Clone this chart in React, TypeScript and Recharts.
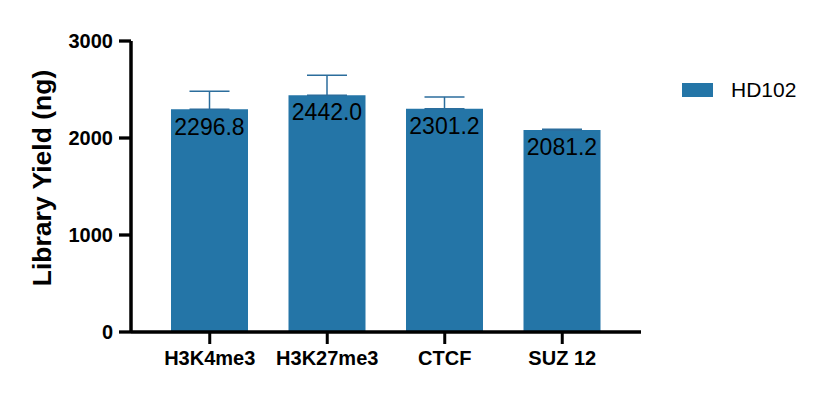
import { BarChart, Bar, XAxis, YAxis, ErrorBar, LabelList, Legend } from "recharts";

const categories = ["H3K4me3", "H3K27me3", "CTCF", "SUZ 12"];
const yieldValues = [2296.8, 2442.0, 2301.2, 2081.2];
const errorUp = [184, 204, 122, 9];
const yTicks = [0, 1000, 2000, 3000];

const FONT = "Arial, 'Liberation Sans', sans-serif";
const BAR_COLOR = "#2475a7";
const ERR_COLOR = "#2b6d9c";

const chartData = categories.map((name, i) => ({
  name,
  value: yieldValues[i],
  err: [0, errorUp[i]],
}));

function LegendBox() {
  return (
    <div style={{ display: "flex", alignItems: "center", fontFamily: FONT }}>
      <span
        style={{ display: "inline-block", width: 31, height: 14, background: BAR_COLOR }}
      />
      <span style={{ marginLeft: 18, fontSize: 21, color: "#000", lineHeight: "24px" }}>
        HD102
      </span>
    </div>
  );
}

export default function App() {
  return (
    <div style={{ position: "absolute", left: 0, top: 0, background: "#fff" }}>
      <BarChart
        width={824}
        height={402}
        data={chartData}
        margin={{ top: 41, right: 183, bottom: 0, left: 0 }}
      >
        <XAxis
          dataKey="name"
          height={70}
          padding={{ left: 20, right: 20 }}
          axisLine={{ stroke: "#000", strokeWidth: 3.5 }}
          tickLine={{ stroke: "#000", strokeWidth: 3 }}
          tickSize={12}
          tickMargin={7}
          tick={{ fill: "#000", fontSize: 20, fontWeight: "bold", fontFamily: FONT }}
        />
        <YAxis
          width={131}
          domain={[0, 3000]}
          ticks={yTicks}
          interval={0}
          axisLine={{ stroke: "#000", strokeWidth: 3.5 }}
          tickLine={{ stroke: "#000", strokeWidth: 3.3 }}
          tickSize={12}
          tickMargin={6}
          tick={{ fill: "#000", fontSize: 20, fontWeight: "bold", fontFamily: FONT }}
          label={{
            content: () => (
              <text
                x={51}
                y={178}
                transform="rotate(-90 51 178)"
                textAnchor="middle"
                fill="#000"
                fontSize={26.5}
                fontWeight="bold"
                fontFamily={FONT}
              >
                Library Yield (ng)
              </text>
            ),
          }}
        />
        <Legend
          layout="horizontal"
          align="center"
          verticalAlign="middle"
          content={() => <LegendBox />}
          wrapperStyle={{ left: 682, top: 78, width: 130 }}
        />
        <Bar dataKey="value" name="HD102" fill={BAR_COLOR} barSize={77} isAnimationActive={false}>
          <ErrorBar
            dataKey="err"
            width={20}
            stroke={ERR_COLOR}
            strokeWidth={1.5}
            direction="y"
            isAnimationActive={false}
          />
          <LabelList
            dataKey="value"
            position="insideTop"
            offset={9}
            formatter={(v: number) => v.toFixed(1)}
            fill="#000"
            fontSize={23}
            fontFamily={FONT}
          />
        </Bar>
      </BarChart>
    </div>
  );
}
